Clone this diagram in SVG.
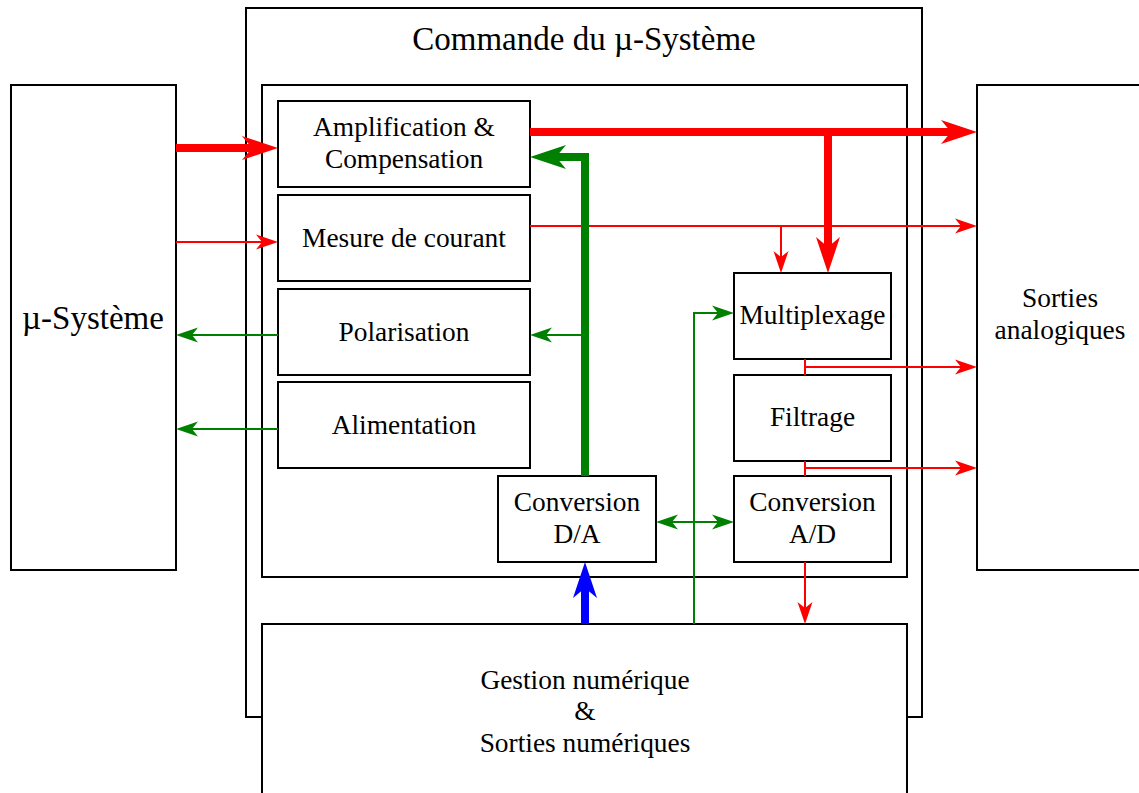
<svg xmlns="http://www.w3.org/2000/svg" width="1139" height="793" viewBox="0 0 1139 793">
<style>
.box{fill:#fff;stroke:#000;stroke-width:2}
.lbl{font-family:"Liberation Serif","Times New Roman",serif;font-size:27.4px;fill:#000;text-anchor:middle}
.big{font-size:33px}
.r{stroke:#ff0000;fill:none}
.g{stroke:#008000;fill:none}
.b{stroke:#0000ff;fill:none}
.thick{stroke-width:8}
.thin{stroke-width:2}
</style>
<defs>
<marker id="tr" markerUnits="userSpaceOnUse" markerWidth="40" markerHeight="30" refX="0" refY="0" orient="auto" overflow="visible" viewBox="-12 -15 40 30"><path d="M26,0 L-10,-12 L0,0 L-10,12 Z" fill="#ff0000"/></marker>
<marker id="tg" markerUnits="userSpaceOnUse" markerWidth="40" markerHeight="30" refX="0" refY="0" orient="auto" overflow="visible" viewBox="-12 -15 40 30"><path d="M26,0 L-10,-12 L0,0 L-10,12 Z" fill="#008000"/></marker>
<marker id="tb" markerUnits="userSpaceOnUse" markerWidth="40" markerHeight="30" refX="0" refY="0" orient="auto" overflow="visible" viewBox="-12 -15 40 30"><path d="M26,0 L-10,-12 L0,0 L-10,12 Z" fill="#0000ff"/></marker>
<marker id="sr" markerUnits="userSpaceOnUse" markerWidth="30" markerHeight="20" refX="0" refY="0" orient="auto" overflow="visible" viewBox="-8 -10 30 20"><path d="M16,0 L-6,-7.5 L0,0 L-6,7.5 Z" fill="#ff0000"/></marker>
<marker id="sg" markerUnits="userSpaceOnUse" markerWidth="30" markerHeight="20" refX="0" refY="0" orient="auto" overflow="visible" viewBox="-8 -10 30 20"><path d="M16,0 L-6,-7.5 L0,0 L-6,7.5 Z" fill="#008000"/></marker>
<marker id="sgs" markerUnits="userSpaceOnUse" markerWidth="30" markerHeight="20" refX="0" refY="0" orient="auto-start-reverse" overflow="visible" viewBox="-8 -10 30 20"><path d="M16,0 L-6,-7.5 L0,0 L-6,7.5 Z" fill="#008000"/></marker>
</defs>

<g id="commande">
<rect class="box" x="246" y="8" width="676" height="709"/>
<text class="lbl big" x="584" y="50">Commande du µ-Système</text>
</g>
<g id="interne">
<rect class="box" x="262" y="85" width="645" height="492"/>
</g>
<g id="micro-systeme">
<rect class="box" x="11" y="85" width="165" height="485"/>
<text class="lbl big" x="93" y="329">µ-Système</text>
</g>
<g id="sorties-analogiques">
<rect class="box" x="977" y="85" width="180" height="485"/>
<text class="lbl" x="1060" y="307">Sorties</text>
<text class="lbl" x="1060" y="339">analogiques</text>
</g>
<g id="amplification">
<rect class="box" x="278" y="101" width="252" height="86"/>
<text class="lbl" x="404" y="136">Amplification &amp;</text>
<text class="lbl" x="404" y="168">Compensation</text>
</g>
<g id="mesure">
<rect class="box" x="278" y="195" width="252" height="86"/>
<text class="lbl" x="404" y="247">Mesure de courant</text>
</g>
<g id="polarisation">
<rect class="box" x="278" y="289" width="252" height="86"/>
<text class="lbl" x="404" y="341">Polarisation</text>
</g>
<g id="alimentation">
<rect class="box" x="278" y="382" width="252" height="86"/>
<text class="lbl" x="404" y="434">Alimentation</text>
</g>
<g id="multiplexage">
<rect class="box" x="734" y="273" width="157" height="86"/>
<text class="lbl" x="812.5" y="324">Multiplexage</text>
</g>
<g id="filtrage">
<rect class="box" x="734" y="375" width="157" height="86"/>
<text class="lbl" x="812.5" y="426">Filtrage</text>
</g>
<g id="conversion-da">
<rect class="box" x="498" y="476" width="158" height="86"/>
<text class="lbl" x="577" y="511">Conversion</text>
<text class="lbl" x="577" y="543">D/A</text>
</g>
<g id="conversion-ad">
<rect class="box" x="734" y="476" width="157" height="86"/>
<text class="lbl" x="812.5" y="511">Conversion</text>
<text class="lbl" x="812.5" y="543">A/D</text>
</g>
<g id="gestion">
<rect class="box" x="262" y="624" width="645" height="190"/>
<text class="lbl" x="585" y="689">Gestion numérique</text>
<text class="lbl" x="585" y="720">&amp;</text>
<text class="lbl" x="585" y="752">Sorties numériques</text>
</g>

<g id="connecteurs">
<path class="r thick" d="M176,148 H252" marker-end="url(#tr)"/>
<path class="r thin" d="M176,242 H262" marker-end="url(#sr)"/>
<path class="r thick" d="M530,132 H951" marker-end="url(#tr)"/>
<path class="r thick" d="M828,132 V247" marker-end="url(#tr)"/>
<path class="r thin" d="M530,226 H961" marker-end="url(#sr)"/>
<path class="r thin" d="M781,226 V257" marker-end="url(#sr)"/>
<path class="r thin" d="M805,359 V375"/>
<path class="r thin" d="M805,367 H961" marker-end="url(#sr)"/>
<path class="r thin" d="M805,461 V476"/>
<path class="r thin" d="M805,468 H961" marker-end="url(#sr)"/>
<path class="r thin" d="M805,562 V608" marker-end="url(#sr)"/>
<path class="g thick" d="M585,476 V157 H556" stroke-linejoin="miter" marker-end="url(#tg)"/>
<path class="g thin" d="M585,335 H546" marker-end="url(#sg)"/>
<path class="g thin" d="M278,335 H192" marker-end="url(#sg)"/>
<path class="g thin" d="M278,429 H192" marker-end="url(#sg)"/>
<path class="g thin" d="M672,522 H718" marker-start="url(#sgs)" marker-end="url(#sgs)"/>
<path class="g thin" d="M694,624 V313 H718" marker-end="url(#sg)"/>
<path class="b thick" d="M585,624 V588" marker-end="url(#tb)"/>
</g>
</svg>
